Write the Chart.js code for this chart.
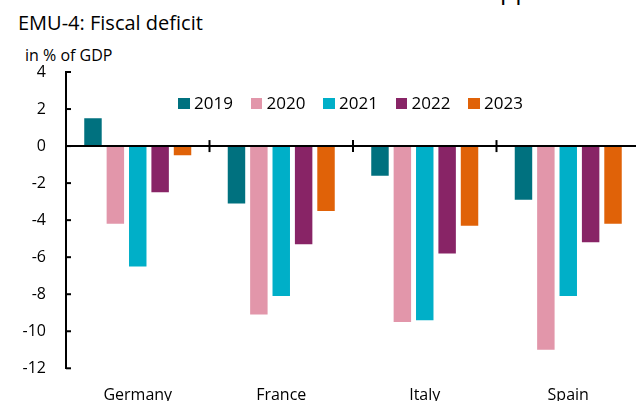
<!DOCTYPE html>
<html>
<head>
<meta charset="utf-8">
<script src="https://cdn.jsdelivr.net/npm/chart.js@4.4.0/dist/chart.umd.min.js"></script>
<style>
  html, body { margin: 0; padding: 0; overflow: hidden; background: #fff; width: 636px; height: 401px; }
  body { position: relative; font-family: "Open Sans", sans-serif; color: #000; }
  #wrap { position: absolute; left: 0; top: 0; width: 640px; height: 401px; }
  .txt { position: absolute; line-height: 1; white-space: nowrap; }
  #legend { position: absolute; left: 178px; top: 94px; display: flex; font-size: 17px; line-height: 1; }
  #legend .item { width: 72.5px; display: flex; align-items: flex-start; }
  #legend .box { width: 11.5px; height: 11px; margin-top: 4.3px; margin-right: 4.5px; }
</style>
</head>
<body>
<div class="txt" style="left:500px; top:-23px; font-size:25px;">pp</div>
<div class="txt" style="left:18px; top:13.2px; font-size:20px;">EMU-4: Fiscal deficit</div>
<div class="txt" style="left:25px; top:46.8px; font-size:16px;">in % of GDP</div>
<div id="wrap"><canvas id="chart" width="640" height="401"></canvas></div>
<div id="legend"></div>
<script>
// categories and series (fiscal balance, % of GDP)
const countries = ['Germany', 'France', 'Italy', 'Spain'];
const years = ['2019', '2020', '2021', '2022', '2023'];
const balance2019 = [1.5, -3.1, -1.6, -2.9];
const balance2020 = [-4.2, -9.1, -9.5, -11.0];
const balance2021 = [-6.5, -8.1, -9.4, -8.1];
const balance2022 = [-2.5, -5.3, -5.8, -5.2];
const balance2023 = [-0.5, -3.5, -4.3, -4.2];
const yearColors = ['#00717f', '#e296aa', '#00afc8', '#882466', '#e06208'];
const yMin = -12, yMax = 4, yStep = 2;

const series = [balance2019, balance2020, balance2021, balance2022, balance2023];

// axis decorations: inward y ticks, zero line, category separators
const axisMarks = {
    id: 'axisMarks',
    afterDatasetsDraw(chart) {
        const { ctx, chartArea, scales: { x, y } } = chart;
        ctx.save();
        ctx.strokeStyle = '#000';
        ctx.lineWidth = 2;
        y.ticks.forEach(t => {
            const py = y.getPixelForValue(t.value);
            ctx.beginPath();
            ctx.moveTo(chartArea.left, py);
            ctx.lineTo(chartArea.left + 5, py);
            ctx.stroke();
        });
        const y0 = y.getPixelForValue(0);
        ctx.beginPath();
        ctx.moveTo(chartArea.left, y0);
        ctx.lineTo(chart.width, y0);
        ctx.stroke();
        for (let i = 1; i < countries.length; i++) {
            const px = (x.getPixelForValue(i - 1) + x.getPixelForValue(i)) / 2;
            ctx.beginPath();
            ctx.moveTo(px, y0 - 6);
            ctx.lineTo(px, y0 + 6);
            ctx.stroke();
        }
        ctx.restore();
    }
};

const font = { family: '"Open Sans", sans-serif', size: 16 };

const chart = new Chart(document.getElementById('chart'), {
    type: 'bar',
    data: {
        labels: countries,
        datasets: years.map((yr, i) => ({
            label: yr,
            data: series[i],
            backgroundColor: yearColors[i],
            borderWidth: 0,
            categoryPercentage: 0.78,
            barPercentage: 0.78
        }))
    },
    plugins: [axisMarks],
    options: {
        responsive: false,
        animation: false,
        layout: { padding: { top: 72, left: 0, right: 0, bottom: 0 } },
        plugins: {
            legend: { display: false },
            tooltip: { enabled: false }
        },
        scales: {
            x: {
                grid: { display: false },
                border: { display: false },
                ticks: { color: '#000', font: font, padding: 10 },
                afterFit: (scale) => { scale.height = 32.7; }
            },
            y: {
                min: yMin,
                max: yMax,
                ticks: { stepSize: yStep, color: '#000', font: font, padding: 20 },
                grid: { drawOnChartArea: false, drawTicks: false },
                border: { display: true, color: '#000', width: 2 },
                afterFit: (scale) => { scale.width = 66; }
            }
        }
    }
});

// legend built from the chart's datasets
const legendEl = document.getElementById('legend');
chart.data.datasets.forEach(ds => {
    const item = document.createElement('div');
    item.className = 'item';
    const box = document.createElement('div');
    box.className = 'box';
    box.style.background = ds.backgroundColor;
    const label = document.createElement('span');
    label.textContent = ds.label;
    item.appendChild(box);
    item.appendChild(label);
    legendEl.appendChild(item);
});
</script>
</body>
</html>
